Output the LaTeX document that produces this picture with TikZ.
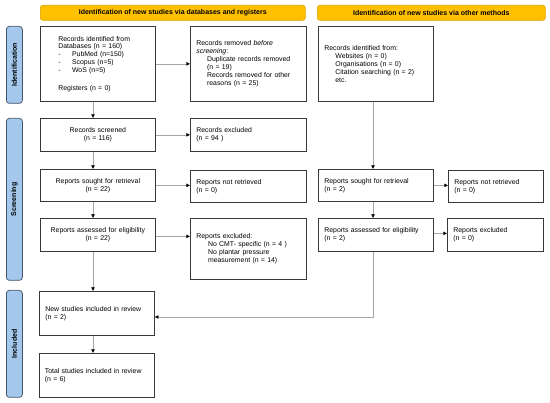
\documentclass[tikz,border=0pt]{standalone}
\usepackage{fontspec}
\setmainfont{Liberation Sans}
\usetikzlibrary{arrows.meta,calc}
\definecolor{hdr}{HTML}{FFC000}
\definecolor{hdrb}{HTML}{D9A300}
\definecolor{side}{HTML}{A4C8EC}
\definecolor{sideb}{HTML}{44546A}
\definecolor{ln}{HTML}{A6A6A6}
\begin{document}
\begin{tikzpicture}[x=1pt,y=-1pt,
  txt/.style={font=\fontsize{6.9}{7.9}\selectfont},
  box/.style={txt, draw=black!78, line width=0.75pt, anchor=north west, inner sep=0pt},
  lbox/.style={box, align=left},
  cbox/.style={box, align=center},
  hdrbox/.style={draw=hdrb, fill=hdr, line width=0.6pt, rounded corners=2.5pt, anchor=north west, inner sep=0pt, font=\bfseries\fontsize{7}{8}\selectfont},
  sidebox/.style={draw=sideb, fill=side, line width=0.75pt, rounded corners=3pt, anchor=north west, inner sep=0pt, minimum width=16pt},
  sidetxt/.style={rotate=90, font=\bfseries\fontsize{7}{8}\selectfont, inner sep=0pt},
  arr/.style={draw=ln, line width=0.7pt, -{Triangle[length=3.6pt,width=3.4pt,color=black]}},
  plain/.style={draw=ln, line width=0.7pt}
]
\useasboundingbox (0,0) rectangle (550,403);

% headers
\node[hdrbox, minimum width=265pt, minimum height=15pt] (h1) at (40,5) {Identification of new studies via databases and registers};
\node[hdrbox, minimum width=228pt, minimum height=15pt] (h2) at (317,5) {Identification of new studies via other methods};

% side labels
\node[sidebox, minimum height=77pt] (s1) at (6,26) {};
\node[sidetxt] (s1t) at (s1.center) {Identification};
\node[sidebox, minimum height=162pt] (s2) at (6,118) {};
\node[sidetxt] (s2t) at (s2.center) {Screening};
\node[sidebox, minimum height=107pt] (s3) at (6,290) {};
\node[sidetxt] (s3t) at (s3.center) {Included};

% left column
\node[lbox, minimum width=115pt, minimum height=75pt, text width=79pt] (rid) at (40,26)
 {Records identified from\\Databases (n = 160)\\\makebox[13.7pt][l]{-}PubMed (n=150)\\\makebox[13.7pt][l]{-}Scopus (n=5)\\\makebox[13.7pt][l]{-}WoS (n=5)\\[9.7pt]Registers (n = 0)};
\node[cbox, minimum width=115pt, minimum height=33pt, text width=103pt] (rs) at (40,118) {Records screened\\(n = 116)};
\node[cbox, minimum width=115pt, minimum height=32pt, text width=103pt] (rsl) at (40,169) {Reports sought for retrieval\\(n = 22)};
\node[cbox, minimum width=115pt, minimum height=33pt, text width=103pt] (rae) at (40,218) {Reports assessed for eligibility\\(n = 22)};
\node[lbox, minimum width=115pt, minimum height=44pt, text width=103pt] (ns) at (39,291) {New studies included in review\\(n = 2)};
\node[lbox, minimum width=115.5pt, minimum height=44pt, text width=103.5pt] (tot) at (38.5,353) {Total studies included in review\\(n = 6)};

% middle column
\node[lbox, minimum width=116pt, minimum height=75pt, text width=104pt] (rrem) at (190,26)
 {Records removed \emph{before}\\\emph{screening}:\\\hspace*{10.7pt}Duplicate records removed\\\hspace*{10.7pt}(n = 19)\\\hspace*{10.7pt}Records removed for other\\\hspace*{10.7pt}reasons (n = 25)};
\node[lbox, minimum width=116pt, minimum height=33pt, text width=104pt] (rex) at (190,118) {Records excluded\\(n = 94 )};
\node[lbox, minimum width=116pt, minimum height=32pt, text width=104pt] (rnr) at (190,170) {Reports not retrieved\\(n = 0)};
\node[lbox, minimum width=116pt, minimum height=61pt, text width=104pt] (rexc) at (190,218)
 {Reports excluded:\\\hspace*{11.7pt}No CMT- specific (n = 4 )\\\hspace*{11.7pt}No plantar pressure\\\hspace*{11.7pt}measurement (n = 14)};

% right column
\node[lbox, minimum width=115pt, minimum height=75pt, text width=103pt] (oid) at (318,26)
 {Records identified from:\\\hspace*{11pt}Websites (n = 0)\\\hspace*{11pt}Organisations (n = 0)\\\hspace*{11pt}Citation searching (n = 2)\\\hspace*{11pt}etc.};
\node[lbox, minimum width=115pt, minimum height=32pt, text width=103pt] (osl) at (318,169) {Reports sought for retrieval\\(n = 2)};
\node[lbox, minimum width=95pt, minimum height=32pt, text width=83pt] (onr) at (448,170) {Reports not retrieved\\(n = 0)};
\node[lbox, minimum width=115pt, minimum height=33pt, text width=103pt] (oae) at (318,218) {Reports assessed for eligibility\\(n = 2)};
\node[lbox, minimum width=96pt, minimum height=33pt, text width=84pt] (oex) at (447,218) {Reports excluded\\(n = 0)};

% helper coordinates
\coordinate (cl) at (93,0);
\coordinate (cr) at (373,0);
\coordinate (jy) at (0,317);

% left vertical arrows
\draw[arr] (rid.south -| cl) -- (rs.north -| cl);
\draw[arr] (rs.south -| cl) -- (rsl.north -| cl);
\draw[arr] (rsl.south -| cl) -- (rae.north -| cl);
\draw[arr] (rae.south -| cl) -- (ns.north -| cl);
\draw[arr] (ns.south -| cl) -- (tot.north -| cl);

% horizontal arrows
\draw[arr] (rid.east) -- (rid.east -| rrem.west);
\draw[arr] (rs.east) -- (rs.east -| rex.west);
\draw[arr] (rsl.east) -- (rsl.east -| rnr.west);
\draw[arr] ($(rae.east)+(0,1.5)$) -- ($(rae.east -| rexc.west)+(0,1.5)$);
\draw[arr] (osl.east) -- (osl.east -| onr.west);
\draw[arr] ($(oae.east)+(0,-1.5)$) -- ($(oae.east -| oex.west)+(0,-1.5)$);

% right vertical arrows
\draw[arr] (oid.south -| cr) -- (osl.north -| cr);
\draw[arr] (osl.south -| cr) -- (oae.north -| cr);
\draw[arr] (oae.south -| cr) -- (cr |- jy) -- (jy -| ns.east);
\end{tikzpicture}
\end{document}
